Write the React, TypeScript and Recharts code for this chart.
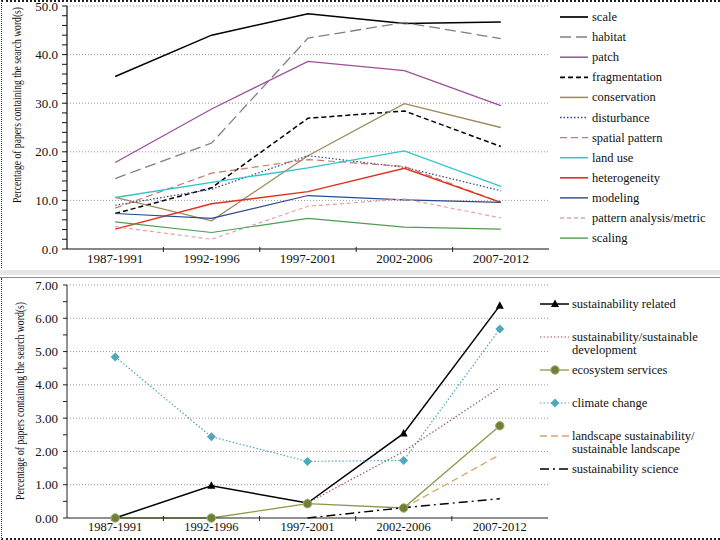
import React from 'react';
import { LineChart, Line, XAxis, YAxis, CartesianGrid, Label } from 'recharts';

const periods = ['1987-1991', '1992-1996', '1997-2001', '2002-2006', '2007-2012'];

// Top panel: percentage of papers containing search words
const scaleVals = [35.5, 44.0, 48.4, 46.4, 46.7];
const habitatVals = [14.5, 21.8, 43.4, 46.6, 43.3];
const patchVals = [17.8, 28.8, 38.6, 36.7, 29.5];
const fragmentationVals = [7.3, 12.6, 26.9, 28.4, 21.1];
const conservationVals = [10.6, 5.8, 19.2, 29.9, 25.0];
const disturbanceVals = [9.0, 12.3, 19.2, 16.8, 12.0];
const spatialPatternVals = [8.4, 15.6, 18.4, 17.0, 9.6];
const landUseVals = [10.6, 13.7, 16.7, 20.2, 12.9];
const heterogeneityVals = [4.1, 9.3, 11.8, 16.6, 9.6];
const modelingVals = [7.3, 6.3, 11.0, 10.1, 9.6];
const patternAnalysisVals = [4.6, 2.0, 8.8, 10.3, 6.4];
const scalingVals = [5.6, 3.4, 6.3, 4.5, 4.1];

// Bottom panel
const sustRelatedVals = [0, 0.97, 0.45, 2.54, 6.38];
const sustDevVals = [null, null, 0.45, 2.0, 3.92];
const ecosystemVals = [0, 0, 0.43, 0.3, 2.77];
const climateVals = [4.84, 2.44, 1.7, 1.73, 5.68];
const landscapeSustVals = [null, null, null, 0.3, 1.9];
const sustScienceVals = [null, null, 0, 0.31, 0.58];

const topTicks = [0, 2, 4, 6, 8, 10, 12, 14, 16, 18, 20, 22, 24, 26, 28, 30, 32, 34, 36, 38, 40, 42, 44, 46, 48, 50];
const topMajor = [10, 20, 30, 40, 50];
const bottomTicks = [0, 0.5, 1, 1.5, 2, 2.5, 3, 3.5, 4, 4.5, 5, 5.5, 6, 6.5, 7];
const bottomMajor = [1, 2, 3, 4, 5, 6, 7];

const FONT = 'Liberation Serif';
const HALF_BAND = 48.2;

type Series = {
  key: string;
  label: string[];
  values: (number | null)[];
  color: string;
  dash?: string;
  width: number;
  marker?: 'triangle' | 'circle' | 'diamond';
};

const topSeries: Series[] = [
  { key: 'scale', label: ['scale'], values: scaleVals, color: '#000000', width: 1.5 },
  { key: 'habitat', label: ['habitat'], values: habitatVals, color: '#7f7f87', dash: '11 5', width: 1.3 },
  { key: 'patch', label: ['patch'], values: patchVals, color: '#9b4f98', width: 1.3 },
  { key: 'fragmentation', label: ['fragmentation'], values: fragmentationVals, color: '#000000', dash: '5 3', width: 1.5 },
  { key: 'conservation', label: ['conservation'], values: conservationVals, color: '#9c8a5c', width: 1.3 },
  { key: 'disturbance', label: ['disturbance'], values: disturbanceVals, color: '#2d3f8f', dash: '1.5 2', width: 1.2 },
  { key: 'spatial', label: ['spatial pattern'], values: spatialPatternVals, color: '#c47a68', dash: '7 4', width: 1.2 },
  { key: 'landuse', label: ['land use'], values: landUseVals, color: '#2ec4cc', width: 1.3 },
  { key: 'heterogeneity', label: ['heterogeneity'], values: heterogeneityVals, color: '#e0301e', width: 1.4 },
  { key: 'modeling', label: ['modeling'], values: modelingVals, color: '#2a4b8a', width: 1.2 },
  { key: 'patternAnalysis', label: ['pattern analysis/metric'], values: patternAnalysisVals, color: '#e6a2a2', dash: '4 3', width: 1.2 },
  { key: 'scaling', label: ['scaling'], values: scalingVals, color: '#4e9c50', width: 1.2 },
];

const bottomSeries: Series[] = [
  { key: 'sustRelated', label: ['sustainability related'], values: sustRelatedVals, color: '#000000', width: 1.5, marker: 'triangle' },
  { key: 'sustDev', label: ['sustainability/sustainable', 'development'], values: sustDevVals, color: '#a35a55', dash: '1.5 2', width: 1.2 },
  { key: 'ecosystem', label: ['ecosystem services'], values: ecosystemVals, color: '#8c9a48', width: 1.3, marker: 'circle' },
  { key: 'climate', label: ['climate change'], values: climateVals, color: '#4aa7b8', dash: '1.5 2', width: 1.2, marker: 'diamond' },
  { key: 'landscapeSust', label: ['landscape sustainability/', 'sustainable landscape'], values: landscapeSustVals, color: '#d8a468', dash: '7 4', width: 1.3 },
  { key: 'sustScience', label: ['sustainability science'], values: sustScienceVals, color: '#000000', dash: '9 4 2 4', width: 1.4 },
];

const buildData = (series: Series[]) =>
  periods.map((p, i) => {
    const row: Record<string, any> = { period: p };
    series.forEach((s) => {
      row[s.key] = s.values[i];
    });
    return row;
  });

const topData = buildData(topSeries);
const bottomData = buildData(bottomSeries);

const drawMarker = (type: string | undefined, cx: number, cy: number, key?: any) => {
  if (type === 'triangle') {
    return <polygon key={key} points={`${cx},${cy - 4.5} ${cx - 4},${cy + 3} ${cx + 4},${cy + 3}`} fill="#000" />;
  }
  if (type === 'circle') {
    return <circle key={key} cx={cx} cy={cy} r={4.2} fill="#6f7f36" stroke="#a2ad6a" strokeWidth={1} />;
  }
  if (type === 'diamond') {
    return <polygon key={key} points={`${cx},${cy - 4.5} ${cx + 4.5},${cy} ${cx},${cy + 4.5} ${cx - 4.5},${cy}`} fill="#4fa9bb" />;
  }
  return <g key={key} />;
};

const makeDot = (type: string | undefined) => (props: any) => {
  const { cx, cy, index } = props;
  if (cx == null || cy == null || Number.isNaN(cx) || Number.isNaN(cy)) return <g key={`e${index}`} />;
  return drawMarker(type, cx, cy, `m${index}`);
};

const textStyle = { fontFamily: FONT };

const XTick = (props: any) => {
  const { x, y, payload, index, fontSize, dy } = props;
  return (
    <g>
      {index < periods.length - 1 && (
        <line x1={x + HALF_BAND} x2={x + HALF_BAND} y1={y - 2} y2={y + 3} stroke="#222" strokeWidth={1} />
      )}
      <text x={x} y={y + dy} textAnchor="middle" style={textStyle} fontSize={fontSize} fill="#111">
        {payload.value}
      </text>
    </g>
  );
};

const YTick = (props: any) => {
  const { x, y, payload, majors, digits } = props;
  const v = payload.value;
  const isMajor = v === 0 || majors.includes(v);
  if (!isMajor) return <g />;
  return (
    <text x={x} y={y + 4.5} textAnchor="end" style={textStyle} fontSize={13} fill="#111">
      {Number(v).toFixed(digits)}
    </text>
  );
};

const yLabel = (cx: number, cy: number, len: number, size: number) => () =>
  (
    <text
      x={cx}
      y={cy}
      transform={`rotate(-90 ${cx} ${cy})`}
      textAnchor="middle"
      dominantBaseline="central"
      style={textStyle}
      fontSize={size}
      fill="#111"
      textLength={len}
      lengthAdjust="spacingAndGlyphs"
    >
      Percentage of papers containing the search word(s)
    </text>
  );

const TopLegend = () => (
  <svg width={170} height={260} style={{ position: 'absolute', left: 550, top: 0 }}>
    {topSeries.map((s, i) => {
      const y = 17 + i * 20.1;
      return (
        <g key={s.key}>
          <line x1={10} x2={38} y1={y} y2={y} stroke={s.color} strokeWidth={s.width + 0.2} strokeDasharray={s.dash} />
          <text x={42} y={y + 4} style={textStyle} fontSize={12.5} fill="#111">
            {s.label[0]}
          </text>
        </g>
      );
    })}
  </svg>
);

const BottomLegend = () => (
  <svg width={190} height={240} style={{ position: 'absolute', left: 530, top: 270 }}>
    {bottomSeries.map((s, i) => {
      const y = 34 + i * 33;
      return (
        <g key={s.key}>
          <line x1={10} x2={39} y1={y} y2={y} stroke={s.color} strokeWidth={s.width} strokeDasharray={s.dash} />
          {s.marker && drawMarker(s.marker, 25, y)}
          {s.label.map((t, j) => (
            <text key={j} x={42} y={y + 4 + j * 12.5} style={textStyle} fontSize={12.5} fill="#111">
              {t}
            </text>
          ))}
        </g>
      );
    })}
  </svg>
);

export default function App() {
  return (
    <div
      style={{
        position: 'absolute',
        left: 0,
        top: 0,
        width: 720,
        height: 540,
        background: '#ffffff',
        overflow: 'hidden',
        fontFamily: FONT,
      }}
    >
      {/* top panel frame */}
      <div
        style={{
          position: 'absolute',
          left: 1,
          top: 0,
          width: 719,
          height: 268,
          borderTop: '2px dotted #222',
          borderLeft: '1px dotted #333',
          boxSizing: 'border-box',
        }}
      />
      {/* separator */}
      <div style={{ position: 'absolute', left: 0, top: 270, width: 720, height: 5, background: '#e6e6e6' }} />
      <div style={{ position: 'absolute', left: 0, top: 277, width: 720, height: 1, background: '#8c8c8c' }} />
      {/* bottom panel frame */}
      <div
        style={{
          position: 'absolute',
          left: 1,
          top: 278,
          width: 719,
          height: 262,
          borderBottom: '2px dotted #222',
          borderLeft: '1px dotted #333',
          boxSizing: 'border-box',
        }}
      />

      <div style={{ position: 'absolute', left: 0, top: 0 }}>
        <LineChart width={720} height={268} data={topData} margin={{ top: 6, right: 171, bottom: 0, left: 0 }}>
          <CartesianGrid horizontal vertical={false} horizontalValues={topMajor} stroke="#9a9a9a" strokeDasharray="1 2" />
          <XAxis
            dataKey="period"
            padding={{ left: HALF_BAND, right: HALF_BAND }}
            height={19}
            tickSize={0}
            tickMargin={0}
            tickLine={false}
            interval={0}
            axisLine={{ stroke: '#111', strokeWidth: 1.2 }}
            tick={<XTick fontSize={13} dy={14} />}
          />
          <YAxis
            domain={[0, 50]}
            ticks={topTicks}
            interval={0}
            width={67}
            tickSize={5}
            tickMargin={4}
            axisLine={{ stroke: '#111', strokeWidth: 1.2 }}
            tickLine={{ stroke: '#111' }}
            tick={<YTick majors={topMajor} digits={1} />}
          >
            <Label content={yLabel(16.5, 105, 196, 12)} />
          </YAxis>
          {topSeries.map((s) => (
            <Line
              key={s.key}
              type="linear"
              dataKey={s.key}
              stroke={s.color}
              strokeWidth={s.width}
              strokeDasharray={s.dash}
              dot={false}
              activeDot={false}
              isAnimationActive={false}
            />
          ))}
        </LineChart>
      </div>
      <TopLegend />

      <div style={{ position: 'absolute', left: 0, top: 270 }}>
        <LineChart width={720} height={270} data={bottomData} margin={{ top: 15, right: 172, bottom: 0, left: 0 }}>
          <CartesianGrid horizontal vertical={false} horizontalValues={bottomMajor} stroke="#9a9a9a" strokeDasharray="1 2" />
          <XAxis
            dataKey="period"
            padding={{ left: HALF_BAND, right: HALF_BAND }}
            height={22}
            tickSize={0}
            tickMargin={0}
            tickLine={false}
            interval={0}
            axisLine={{ stroke: '#222', strokeWidth: 1 }}
            tick={<XTick fontSize={12.5} dy={13} />}
          />
          <YAxis
            domain={[0, 7]}
            ticks={bottomTicks}
            interval={0}
            width={67}
            tickSize={4}
            tickMargin={5}
            axisLine={{ stroke: '#222', strokeWidth: 1 }}
            tickLine={{ stroke: '#222' }}
            tick={<YTick majors={bottomMajor} digits={2} />}
          >
            <Label content={yLabel(20, 131, 198, 12)} />
          </YAxis>
          {bottomSeries.map((s) => (
            <Line
              key={s.key}
              type="linear"
              dataKey={s.key}
              stroke={s.color}
              strokeWidth={s.width}
              strokeDasharray={s.dash}
              dot={s.marker ? makeDot(s.marker) : false}
              activeDot={false}
              connectNulls={false}
              isAnimationActive={false}
            />
          ))}
        </LineChart>
      </div>
      <BottomLegend />
    </div>
  );
}
